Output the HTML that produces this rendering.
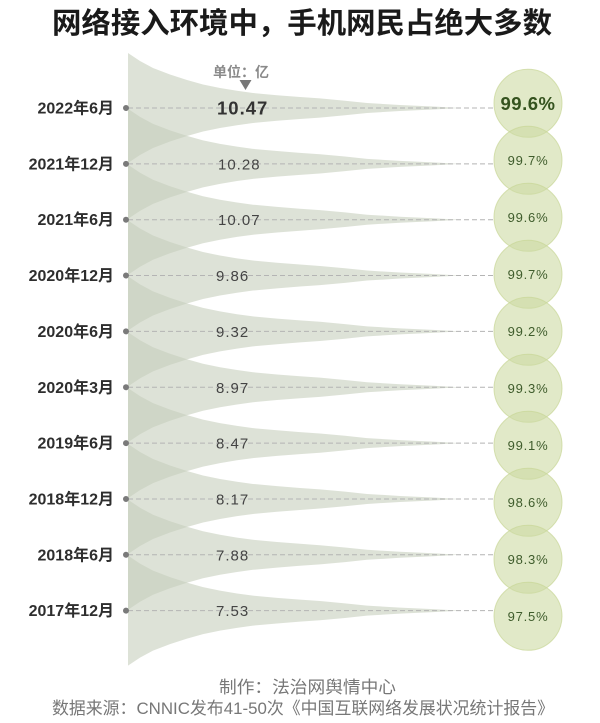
<!DOCTYPE html>
<html>
<head>
<meta charset="utf-8">
<style>
  html, body { margin: 0; padding: 0; background: #ffffff; }
  body { width: 600px; height: 723px; overflow: hidden; }
  svg { display: block; }
  .t { font-family: "Liberation Sans", "Noto Sans CJK SC", sans-serif; }
</style>
</head>
<body>
<svg width="600" height="723" viewBox="0 0 600 723" xmlns="http://www.w3.org/2000/svg">
  <rect width="600" height="723" fill="#ffffff"/>

  <!-- Title -->
  <text class="t" x="302" y="33" text-anchor="middle" font-size="29" font-weight="bold" fill="#1a1a1a" textLength="500" lengthAdjust="spacingAndGlyphs">网络接入环境中，手机网民占绝大多数</text>

  <!-- Horns -->
  <g fill="rgb(197,206,187)" fill-opacity="0.59">
    <path id="h0" transform="translate(0,108)" d="M128,-55 L140,-47 L153,-40 L170,-33.5 L187,-28 L203,-23.5 L220,-20 L237,-17.2 L253,-15 L277,-12.8 L300,-11 L320,-9.6 L345,-7.3 L367,-5 L400,-3 L433,-1.5 L460,0 L433,1.5 L400,3 L367,5 L345,7.3 L320,9.6 L300,11 L277,12.8 L253,15 L237,17.2 L220,20 L203,23.5 L187,28 L170,33.5 L153,40 L140,47 L128,55 Z"/>
    <path transform="translate(0,163.85)" d="M128,-55 L140,-47 L153,-40 L170,-33.5 L187,-28 L203,-23.5 L220,-20 L237,-17.2 L253,-15 L277,-12.8 L300,-11 L320,-9.6 L345,-7.3 L367,-5 L400,-3 L433,-1.5 L460,0 L433,1.5 L400,3 L367,5 L345,7.3 L320,9.6 L300,11 L277,12.8 L253,15 L237,17.2 L220,20 L203,23.5 L187,28 L170,33.5 L153,40 L140,47 L128,55 Z"/>
    <path transform="translate(0,219.7)" d="M128,-55 L140,-47 L153,-40 L170,-33.5 L187,-28 L203,-23.5 L220,-20 L237,-17.2 L253,-15 L277,-12.8 L300,-11 L320,-9.6 L345,-7.3 L367,-5 L400,-3 L433,-1.5 L460,0 L433,1.5 L400,3 L367,5 L345,7.3 L320,9.6 L300,11 L277,12.8 L253,15 L237,17.2 L220,20 L203,23.5 L187,28 L170,33.5 L153,40 L140,47 L128,55 Z"/>
    <path transform="translate(0,275.55)" d="M128,-55 L140,-47 L153,-40 L170,-33.5 L187,-28 L203,-23.5 L220,-20 L237,-17.2 L253,-15 L277,-12.8 L300,-11 L320,-9.6 L345,-7.3 L367,-5 L400,-3 L433,-1.5 L460,0 L433,1.5 L400,3 L367,5 L345,7.3 L320,9.6 L300,11 L277,12.8 L253,15 L237,17.2 L220,20 L203,23.5 L187,28 L170,33.5 L153,40 L140,47 L128,55 Z"/>
    <path transform="translate(0,331.4)" d="M128,-55 L140,-47 L153,-40 L170,-33.5 L187,-28 L203,-23.5 L220,-20 L237,-17.2 L253,-15 L277,-12.8 L300,-11 L320,-9.6 L345,-7.3 L367,-5 L400,-3 L433,-1.5 L460,0 L433,1.5 L400,3 L367,5 L345,7.3 L320,9.6 L300,11 L277,12.8 L253,15 L237,17.2 L220,20 L203,23.5 L187,28 L170,33.5 L153,40 L140,47 L128,55 Z"/>
    <path transform="translate(0,387.25)" d="M128,-55 L140,-47 L153,-40 L170,-33.5 L187,-28 L203,-23.5 L220,-20 L237,-17.2 L253,-15 L277,-12.8 L300,-11 L320,-9.6 L345,-7.3 L367,-5 L400,-3 L433,-1.5 L460,0 L433,1.5 L400,3 L367,5 L345,7.3 L320,9.6 L300,11 L277,12.8 L253,15 L237,17.2 L220,20 L203,23.5 L187,28 L170,33.5 L153,40 L140,47 L128,55 Z"/>
    <path transform="translate(0,443.1)" d="M128,-55 L140,-47 L153,-40 L170,-33.5 L187,-28 L203,-23.5 L220,-20 L237,-17.2 L253,-15 L277,-12.8 L300,-11 L320,-9.6 L345,-7.3 L367,-5 L400,-3 L433,-1.5 L460,0 L433,1.5 L400,3 L367,5 L345,7.3 L320,9.6 L300,11 L277,12.8 L253,15 L237,17.2 L220,20 L203,23.5 L187,28 L170,33.5 L153,40 L140,47 L128,55 Z"/>
    <path transform="translate(0,498.95)" d="M128,-55 L140,-47 L153,-40 L170,-33.5 L187,-28 L203,-23.5 L220,-20 L237,-17.2 L253,-15 L277,-12.8 L300,-11 L320,-9.6 L345,-7.3 L367,-5 L400,-3 L433,-1.5 L460,0 L433,1.5 L400,3 L367,5 L345,7.3 L320,9.6 L300,11 L277,12.8 L253,15 L237,17.2 L220,20 L203,23.5 L187,28 L170,33.5 L153,40 L140,47 L128,55 Z"/>
    <path transform="translate(0,554.8)" d="M128,-55 L140,-47 L153,-40 L170,-33.5 L187,-28 L203,-23.5 L220,-20 L237,-17.2 L253,-15 L277,-12.8 L300,-11 L320,-9.6 L345,-7.3 L367,-5 L400,-3 L433,-1.5 L460,0 L433,1.5 L400,3 L367,5 L345,7.3 L320,9.6 L300,11 L277,12.8 L253,15 L237,17.2 L220,20 L203,23.5 L187,28 L170,33.5 L153,40 L140,47 L128,55 Z"/>
    <path transform="translate(0,610.65)" d="M128,-55 L140,-47 L153,-40 L170,-33.5 L187,-28 L203,-23.5 L220,-20 L237,-17.2 L253,-15 L277,-12.8 L300,-11 L320,-9.6 L345,-7.3 L367,-5 L400,-3 L433,-1.5 L460,0 L433,1.5 L400,3 L367,5 L345,7.3 L320,9.6 L300,11 L277,12.8 L253,15 L237,17.2 L220,20 L203,23.5 L187,28 L170,33.5 L153,40 L140,47 L128,55 Z"/>
  </g>

  <!-- Dashed lines -->
  <g stroke="#b4b4b4" stroke-width="1" stroke-dasharray="5,3">
    <line x1="128" y1="108" x2="494" y2="108"/>
    <line x1="128" y1="163.85" x2="494" y2="163.85"/>
    <line x1="128" y1="219.7" x2="494" y2="219.7"/>
    <line x1="128" y1="275.55" x2="494" y2="275.55"/>
    <line x1="128" y1="331.4" x2="494" y2="331.4"/>
    <line x1="128" y1="387.25" x2="494" y2="387.25"/>
    <line x1="128" y1="443.1" x2="494" y2="443.1"/>
    <line x1="128" y1="498.95" x2="494" y2="498.95"/>
    <line x1="128" y1="554.8" x2="494" y2="554.8"/>
    <line x1="128" y1="610.65" x2="494" y2="610.65"/>
  </g>

  <!-- Dots -->
  <g fill="#7a7a7a">
    <circle cx="126" cy="108" r="3"/>
    <circle cx="126" cy="163.85" r="3"/>
    <circle cx="126" cy="219.7" r="3"/>
    <circle cx="126" cy="275.55" r="3"/>
    <circle cx="126" cy="331.4" r="3"/>
    <circle cx="126" cy="387.25" r="3"/>
    <circle cx="126" cy="443.1" r="3"/>
    <circle cx="126" cy="498.95" r="3"/>
    <circle cx="126" cy="554.8" r="3"/>
    <circle cx="126" cy="610.65" r="3"/>
  </g>

  <!-- Row labels -->
  <g class="t" font-size="16" font-weight="bold" fill="#2e2e2e" text-anchor="end">
    <text x="114" y="113.5">2022年6月</text>
    <text x="114" y="169.35">2021年12月</text>
    <text x="114" y="225.2">2021年6月</text>
    <text x="114" y="281.05">2020年12月</text>
    <text x="114" y="336.9">2020年6月</text>
    <text x="114" y="392.75">2020年3月</text>
    <text x="114" y="448.6">2019年6月</text>
    <text x="114" y="504.45">2018年12月</text>
    <text x="114" y="560.3">2018年6月</text>
    <text x="114" y="616.15">2017年12月</text>
  </g>

  <!-- Unit label -->
  <text class="t" x="241" y="77" text-anchor="middle" font-size="14" font-weight="bold" fill="#8a8a8a">单位：亿</text>
  <polygon points="239.5,80 251.5,80 245.5,90" fill="#777777"/>

  <!-- Values -->
  <text class="t" x="217" y="114.5" font-size="18.5" font-weight="bold" fill="#333333" letter-spacing="1">10.47</text>
  <g class="t" font-size="15" fill="#444444" letter-spacing="1">
    <text x="218" y="169.35">10.28</text>
    <text x="218" y="225.2">10.07</text>
    <text x="216" y="281.05">9.86</text>
    <text x="216" y="336.9">9.32</text>
    <text x="216" y="392.75">8.97</text>
    <text x="216" y="448.6">8.47</text>
    <text x="216" y="504.45">8.17</text>
    <text x="216" y="560.3">7.88</text>
    <text x="216" y="616.15">7.53</text>
  </g>

  <!-- Circles -->
  <g fill="rgb(205,218,163)" fill-opacity="0.6" stroke="rgb(200,214,150)" stroke-opacity="0.7" stroke-width="1">
    <circle cx="528" cy="103.3" r="34"/>
    <circle cx="528" cy="160.3" r="34"/>
    <circle cx="528" cy="217.3" r="34"/>
    <circle cx="528" cy="274.3" r="34"/>
    <circle cx="528" cy="331.3" r="34"/>
    <circle cx="528" cy="388.3" r="34"/>
    <circle cx="528" cy="445.3" r="34"/>
    <circle cx="528" cy="502.3" r="34"/>
    <circle cx="528" cy="559.3" r="34"/>
    <circle cx="528" cy="616.3" r="34"/>
  </g>

  <!-- Percentages -->
  <text class="t" x="528" y="109.8" text-anchor="middle" font-size="18.5" font-weight="bold" fill="#35531f" letter-spacing="0.5">99.6%</text>
  <g class="t" font-size="13" fill="#3f5c2c" text-anchor="middle" letter-spacing="0.8">
    <text x="528" y="164.8">99.7%</text>
    <text x="528" y="221.8">99.6%</text>
    <text x="528" y="278.8">99.7%</text>
    <text x="528" y="335.8">99.2%</text>
    <text x="528" y="392.8">99.3%</text>
    <text x="528" y="449.8">99.1%</text>
    <text x="528" y="506.8">98.6%</text>
    <text x="528" y="563.8">98.3%</text>
    <text x="528" y="620.8">97.5%</text>
  </g>

  <!-- Footer -->
  <text class="t" x="307.5" y="693" text-anchor="middle" font-size="17" fill="#777777" textLength="177" lengthAdjust="spacingAndGlyphs">制作：法治网舆情中心</text>
  <text class="t" x="303" y="714" text-anchor="middle" font-size="17" fill="#777777" textLength="502" lengthAdjust="spacingAndGlyphs">数据来源：CNNIC发布41-50次《中国互联网络发展状况统计报告》</text>
</svg>
</body>
</html>
